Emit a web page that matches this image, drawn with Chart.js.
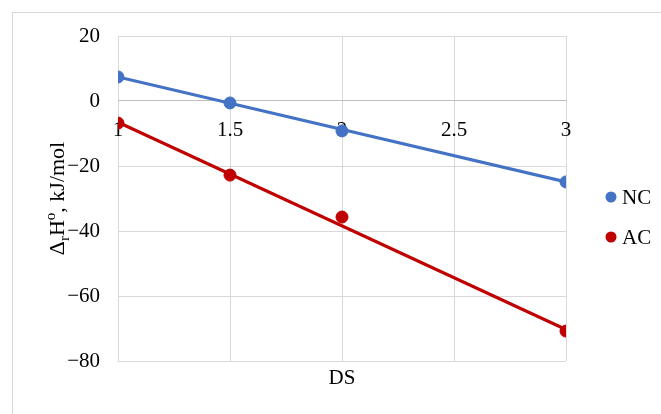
<!DOCTYPE html>
<html>
<head>
<meta charset="utf-8">
<script src="https://cdn.jsdelivr.net/npm/chart.js@4"></script>
<style>
html,body{margin:0;padding:0;background:#fff;}
#wrap{width:661px;height:414px;position:relative;}
</style>
</head>
<body>
<div id="wrap"><canvas id="c"></canvas></div>
<script>
// ---- data ----
const seriesNames = ["NC", "AC"];
const dsValues = [1, 1.5, 2, 3];
const ncValues = [7.4, -0.6, -9.2, -24.9];
const acValues = [-6.8, -22.8, -35.7, -70.8];
const trendX = [1, 3];
const ncTrend = [7.4, -24.9];
const acTrend = [-6.5, -70.3];
const xTicks = [1, 1.5, 2, 2.5, 3];
const yTicks = [-80, -60, -40, -20, 0, 20];
const xTitle = "DS";
const yTitleParts = [["Δ", "n"], ["r", "sub"], ["H", "n"], ["o", "sup"], [", kJ/mol", "n"]];

const colors = ["#4472C4", "#C00000"];
const FONT = "'Liberation Serif', 'Times New Roman', serif";

function pts(xs, ys) { return xs.map((x, i) => ({x: x, y: ys[i]})); }

const bgPlugin = {
  id: 'bg',
  beforeDraw(chart) {
    const ctx = chart.ctx;
    ctx.save();
    ctx.fillStyle = '#fff';
    ctx.fillRect(0, 0, chart.width, chart.height);
    ctx.strokeStyle = '#d9d9d9';
    ctx.lineWidth = 1;
    ctx.strokeRect(12.5, 12.5, chart.width + 20, chart.height + 20);
    ctx.restore();
  }
};

const extraPlugin = {
  id: 'extra',
  afterDraw(chart) {
    const ctx = chart.ctx;
    const ca = chart.chartArea;
    ctx.save();
    // y title
    const size = 22;
    const small = 15;
    ctx.translate(ca.left - 62, (ca.top + ca.bottom) / 2);
    ctx.rotate(-Math.PI / 2);
    let w = 0;
    yTitleParts.forEach(p => {
      ctx.font = (p[1] === 'n' ? size : small) + 'px ' + FONT;
      w += ctx.measureText(p[0]).width;
    });
    let x = -w / 2;
    ctx.fillStyle = '#000';
    ctx.textBaseline = 'alphabetic';
    yTitleParts.forEach(p => {
      ctx.font = (p[1] === 'n' ? size : small) + 'px ' + FONT;
      const dy = p[1] === 'sub' ? 5 : (p[1] === 'sup' ? -9 : 0);
      ctx.fillText(p[0], x, 8 + dy);
      x += ctx.measureText(p[0]).width;
    });
    ctx.restore();

    // legend
    ctx.save();
    ctx.font = '21px ' + FONT;
    ctx.textBaseline = 'middle';
    const lx = 611, ly0 = 197, step = 40;
    seriesNames.forEach((n, i) => {
      const y = ly0 + i * step;
      ctx.fillStyle = colors[i];
      ctx.beginPath();
      ctx.arc(lx, y, 5.5, 0, Math.PI * 2);
      ctx.fill();
      ctx.fillStyle = '#000';
      ctx.fillText(n, lx + 11, y + 1);
    });
    ctx.restore();
  }
};

new Chart(document.getElementById('c'), {
  type: 'scatter',
  data: {
    datasets: [
      {label: seriesNames[0], data: pts(dsValues, ncValues), backgroundColor: colors[0], borderColor: colors[0], pointRadius: 6, pointHoverRadius: 6, showLine: false, order: 1},
      {label: seriesNames[1], data: pts(dsValues, acValues), backgroundColor: colors[1], borderColor: colors[1], pointRadius: 6, pointHoverRadius: 6, showLine: false, order: 1},
      {label: seriesNames[0] + ' trend', data: pts(trendX, ncTrend), borderColor: colors[0], borderWidth: 3.2, pointRadius: 0, showLine: true, order: 2},
      {label: seriesNames[1] + ' trend', data: pts(trendX, acTrend), borderColor: colors[1], borderWidth: 3.2, pointRadius: 0, showLine: true, order: 2}
    ]
  },
  options: {
    responsive: true,
    maintainAspectRatio: false,
    animation: false,
    events: [],
    layout: {padding: {left: 0, right: 95, top: 36, bottom: 0}},
    plugins: {legend: {display: false}, tooltip: {enabled: false}},
    scales: {
      x: {
        type: 'linear', position: 'bottom', min: 1, max: 3,
        afterBuildTicks(s) { s.ticks = xTicks.map(v => ({value: v})); },
        afterFit(s) { s.height = 53; },
        ticks: {display: false},
        grid: {color: '#d9d9d9', lineWidth: 1, drawTicks: false},
        border: {display: false},
        title: {display: true, text: xTitle, color: '#000', font: {family: FONT, size: 21}, padding: {top: 0, bottom: 23}}
      },
      x2: {
        type: 'linear', axis: 'x', position: {y: 0}, min: 1, max: 3,
        afterBuildTicks(s) { s.ticks = xTicks.map(v => ({value: v})); },
        ticks: {color: '#000', font: {family: FONT, size: 21}, padding: 17, maxRotation: 0,
          callback: v => String(v)},
        grid: {display: false, drawTicks: false},
        border: {display: true, color: '#bfbfbf', width: 1}
      },
      y: {
        type: 'linear', min: -80, max: 20,
        afterBuildTicks(s) { s.ticks = yTicks.map(v => ({value: v})); },
        afterFit(s) { s.width = 118; },
        ticks: {color: '#000', font: {family: FONT, size: 21}, padding: 18,
          callback: v => v < 0 ? '\u2212' + Math.abs(v) : String(v)},
        grid: {color: '#d9d9d9', lineWidth: 1, drawTicks: false},
        border: {display: false}
      }
    }
  },
  plugins: [bgPlugin, extraPlugin]
});
</script>
</body>
</html>
